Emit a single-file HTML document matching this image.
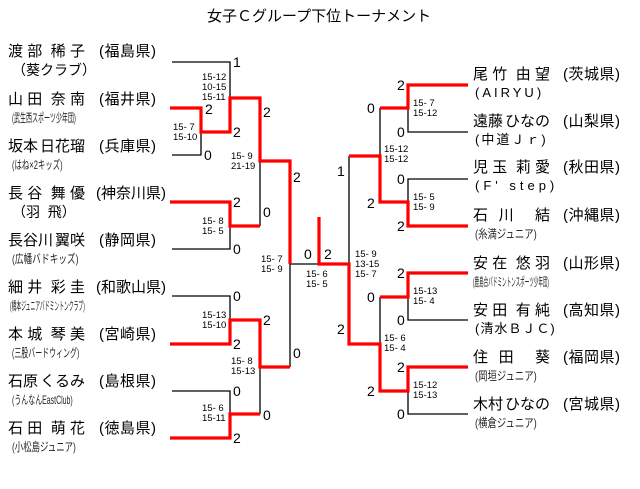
<!DOCTYPE html>
<html><head><meta charset="utf-8"><style>
body{margin:0;width:640px;height:489px;background:#fff;position:relative;overflow:hidden;font-family:"Liberation Sans","Noto Sans CJK JP",sans-serif;color:#000}
.t{position:absolute;white-space:nowrap;line-height:1}
.nm{font-size:15px;}
.n{position:absolute;display:flex;justify-content:space-between;width:77px;font-size:15px;line-height:1;white-space:nowrap}
.n i{width:0}
.pf{font-size:15px;letter-spacing:0.5px}
.sb{font-size:12px;color:#222;transform-origin:0 50%}
.sc{font-size:14px;font-family:"Liberation Sans",sans-serif}
.ms{font-size:9.5px;line-height:10px;font-family:"Liberation Sans",sans-serif;white-space:pre}
svg{position:absolute;left:0;top:0}
</style></head><body>
<div class="t" style="left:207px;top:9px;font-size:15px">女子Ｃグループ下位トーナメント</div>
<svg width="640" height="489">
<g fill="none" stroke="#000" stroke-width="1.3">
<path d="M172,62H230V132M201,108V155H172M230,202V249H172M260,98V226M172,296H230V320M172,391H230V414M260,320V414M290,161V367M290,264H319"/>
<path d="M468,132H408V108M468,179H408V202M380,108V156M349,156V264M468,320H408V297M468,414H408V391M380,297V391"/>
</g>
<g fill="none" stroke="#f00" stroke-width="3.2">
<path d="M170,108H201V132H230V98H260V161H290V264"/>
<path d="M170,202H230V226H260"/>
<path d="M170,344H230V320H260V367H290"/>
<path d="M170,438H230V414H260"/>
<path d="M319,217V264H349V344H380V391H408V367H468"/>
<path d="M468,85H408V108H380"/>
<path d="M349,156H380V202H408V226H468"/>
<path d="M468,273H408V297H380"/>
</g>
</svg>
<!-- left names -->
<div class="n" style="left:8px;top:44px"><span>渡</span><span>部</span><i></i><span>稀</span><span>子</span></div><div class="t pf" style="left:99px;top:44px">(福島県)</div>
<div class="t nm" style="left:12px;top:63px;font-size:14px">（葵クラブ）</div>
<div class="n" style="left:8px;top:92px"><span>山</span><span>田</span><i></i><span>奈</span><span>南</span></div><div class="t pf" style="left:99px;top:92px">(福井県)</div>
<div class="t sb" style="left:12px;top:112px;transform:scaleX(0.5)">(武生西スポーツ少年団)</div>
<div class="n" style="left:8px;top:139px"><span>坂本</span><span>日花瑠</span></div><div class="t pf" style="left:99px;top:139px">(兵庫県)</div>
<div class="t sb" style="left:12px;top:159px;transform:scaleX(0.62)">(はね×2キッズ)</div>
<div class="n" style="left:8px;top:186px"><span>長</span><span>谷</span><i></i><span>舞</span><span>優</span></div><div class="t pf" style="left:96px;top:186px;letter-spacing:0">(神奈川県)</div>
<div class="t nm" style="left:12px;top:205px;font-size:14px">（羽&nbsp;&nbsp;飛）</div>
<div class="n" style="left:8px;top:233px"><span>長谷川</span><span>翼咲</span></div><div class="t pf" style="left:99px;top:233px">(静岡県)</div>
<div class="t sb" style="left:12px;top:253px;transform:scaleX(0.72)">(広幡バドキッズ)</div>
<div class="n" style="left:8px;top:280px"><span>細</span><span>井</span><i></i><span>彩</span><span>圭</span></div><div class="t pf" style="left:96px;top:280px;letter-spacing:0">(和歌山県)</div>
<div class="t sb" style="left:10px;top:300px;transform:scaleX(0.4)">(橋本ジュニアバドミントンクラブ)</div>
<div class="n" style="left:8px;top:327px"><span>本</span><span>城</span><i></i><span>琴</span><span>美</span></div><div class="t pf" style="left:99px;top:327px">(宮崎県)</div>
<div class="t sb" style="left:12px;top:347px;transform:scaleX(0.58)">(三股バードウィング)</div>
<div class="n" style="left:8px;top:374px"><span>石原</span><span>くるみ</span></div><div class="t pf" style="left:99px;top:374px">(島根県)</div>
<div class="t sb" style="left:12px;top:394px;transform:scaleX(0.58)">(うんなんEastClub)</div>
<div class="n" style="left:8px;top:421px"><span>石</span><span>田</span><i></i><span>萌</span><span>花</span></div><div class="t pf" style="left:99px;top:421px">(徳島県)</div>
<div class="t sb" style="left:12px;top:441px;transform:scaleX(0.7)">(小松島ジュニア)</div>
<!-- right names -->
<div class="n" style="left:473px;top:67px"><span>尾</span><span>竹</span><i></i><span>由</span><span>望</span></div><div class="t pf" style="left:563px;top:67px">(茨城県)</div>
<div class="t nm" style="left:475px;top:86px;font-size:13px;letter-spacing:3px">(AIRYU)</div>
<div class="n" style="left:473px;top:114px"><span>遠藤</span><span>ひなの</span></div><div class="t pf" style="left:563px;top:114px">(山梨県)</div>
<div class="t nm" style="left:475px;top:133px;font-size:13px;letter-spacing:2px">(中道Ｊｒ)</div>
<div class="n" style="left:473px;top:160px"><span>児</span><span>玉</span><i></i><span>莉</span><span>愛</span></div><div class="t pf" style="left:563px;top:160px">(秋田県)</div>
<div class="t nm" style="left:475px;top:179px;font-size:13px;letter-spacing:4px">(F' step)</div>
<div class="n" style="left:473px;top:208px"><span>石</span><span>川</span><i></i><span>結</span></div><div class="t pf" style="left:563px;top:208px">(沖縄県)</div>
<div class="t sb" style="left:475px;top:228px;transform:scaleX(0.78)">(糸満ジュニア)</div>
<div class="n" style="left:473px;top:256px"><span>安</span><span>在</span><i></i><span>悠</span><span>羽</span></div><div class="t pf" style="left:563px;top:256px">(山形県)</div>
<div class="t sb" style="left:473px;top:276px;transform:scaleX(0.38)">(鹿島台バドミントンスポーツ少年団)</div>
<div class="n" style="left:473px;top:303px"><span>安</span><span>田</span><i></i><span>有</span><span>純</span></div><div class="t pf" style="left:563px;top:303px">(高知県)</div>
<div class="t nm" style="left:475px;top:322px;font-size:13px;letter-spacing:1px">(清水ＢＪＣ)</div>
<div class="n" style="left:473px;top:350px"><span>住</span><span>田</span><i></i><span>葵</span></div><div class="t pf" style="left:563px;top:350px">(福岡県)</div>
<div class="t sb" style="left:475px;top:370px;transform:scaleX(0.78)">(岡垣ジュニア)</div>
<div class="n" style="left:473px;top:397px"><span>木村</span><span>ひなの</span></div><div class="t pf" style="left:563px;top:397px">(宮城県)</div>
<div class="t sb" style="left:475px;top:417px;transform:scaleX(0.78)">(横倉ジュニア)</div>
<!-- scores -->
<div class="t sc" style="left:233px;top:55px">1</div>
<div class="t sc" style="left:205px;top:102px">2</div>
<div class="t sc" style="left:233px;top:125px">2</div>
<div class="t sc" style="left:204px;top:148px">0</div>
<div class="t sc" style="left:263px;top:105px">2</div>
<div class="t sc" style="left:293px;top:170px">2</div>
<div class="t sc" style="left:263px;top:205px">0</div>
<div class="t sc" style="left:233px;top:195px">2</div>
<div class="t sc" style="left:233px;top:242px">0</div>
<div class="t sc" style="left:304px;top:247px">0</div>
<div class="t sc" style="left:324px;top:247px">2</div>
<div class="t sc" style="left:233px;top:289px">0</div>
<div class="t sc" style="left:233px;top:337px">2</div>
<div class="t sc" style="left:263px;top:313px">2</div>
<div class="t sc" style="left:293px;top:346px">0</div>
<div class="t sc" style="left:233px;top:384px">0</div>
<div class="t sc" style="left:263px;top:408px">0</div>
<div class="t sc" style="left:233px;top:431px">2</div>
<div class="t sc" style="left:337px;top:164px">1</div>
<div class="t sc" style="left:337px;top:322px">2</div>
<div class="t sc" style="left:397px;top:78px">2</div>
<div class="t sc" style="left:367px;top:101px">0</div>
<div class="t sc" style="left:397px;top:125px">0</div>
<div class="t sc" style="left:397px;top:172px">0</div>
<div class="t sc" style="left:367px;top:196px">2</div>
<div class="t sc" style="left:397px;top:219px">2</div>
<div class="t sc" style="left:397px;top:266px">2</div>
<div class="t sc" style="left:367px;top:290px">0</div>
<div class="t sc" style="left:397px;top:313px">0</div>
<div class="t sc" style="left:397px;top:360px">2</div>
<div class="t sc" style="left:367px;top:384px">2</div>
<div class="t sc" style="left:397px;top:407px">0</div>
<!-- match scores -->
<div class="t ms" style="left:202px;top:73px">15-12
10-15
15-11</div>
<div class="t ms" style="left:173px;top:123px">15- 7
15-10</div>
<div class="t ms" style="left:231px;top:152px">15- 9
21-19</div>
<div class="t ms" style="left:202px;top:217px">15- 8
15- 5</div>
<div class="t ms" style="left:261px;top:255px">15- 7
15- 9</div>
<div class="t ms" style="left:202px;top:311px">15-13
15-10</div>
<div class="t ms" style="left:231px;top:357px">15- 8
15-13</div>
<div class="t ms" style="left:202px;top:404px">15- 6
15-11</div>
<div class="t ms" style="left:306px;top:270px">15- 6
15- 5</div>
<div class="t ms" style="left:355px;top:250px">15- 9
13-15
15- 7</div>
<div class="t ms" style="left:413px;top:99px">15- 7
15-12</div>
<div class="t ms" style="left:384px;top:145px">15-12
15-12</div>
<div class="t ms" style="left:413px;top:193px">15- 5
15- 9</div>
<div class="t ms" style="left:413px;top:287px">15-13
15- 4</div>
<div class="t ms" style="left:384px;top:334px">15- 6
15- 4</div>
<div class="t ms" style="left:413px;top:381px">15-12
15-13</div>
</body></html>
